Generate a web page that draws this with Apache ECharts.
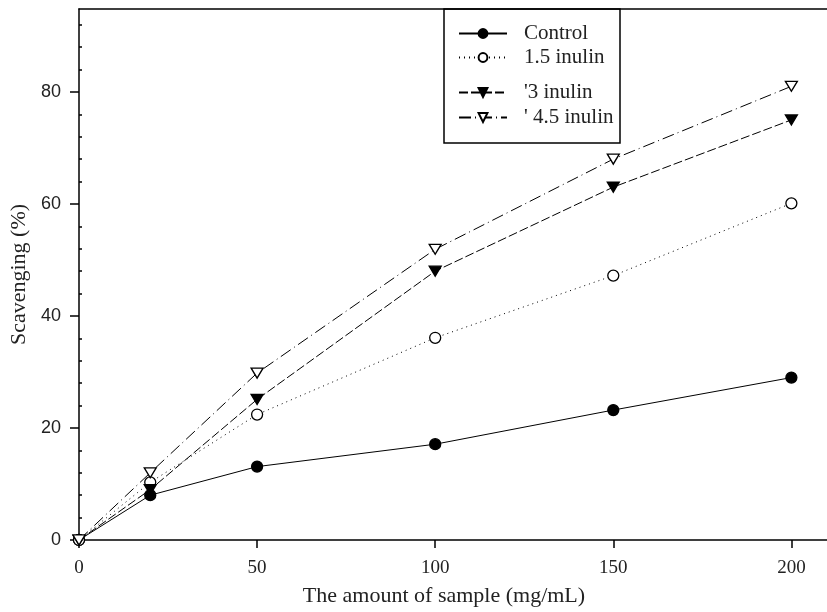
<!DOCTYPE html>
<html><head><meta charset="utf-8">
<script src="https://cdn.jsdelivr.net/npm/echarts@6/dist/echarts.min.js"></script>
<style>html,body{margin:0;padding:0;background:#fff}#c{width:827px;height:612px}</style>
</head><body><div id="c"></div>
<script>
const xValues = [0, 20, 50, 100, 150, 200];
const control = [0, 8, 13.1, 17.1, 23.2, 29];
const inulin15 = [0, 10.3, 22.4, 36.1, 47.2, 60.1];
const inulin3 = [0, 9, 25.1, 48, 63, 75];
const inulin45 = [0, 12, 29.8, 51.9, 68, 81];
const seriesNames = ['Control', '1.5 inulin', "'3 inulin", "' 4.5 inulin"];
const xTicks = [0, 50, 100, 150, 200];
const yTicks = [0, 20, 40, 60, 80];
const yMinorTicks = [4,8,12,16,24,28,32,36,44,48,52,56,64,68,72,76,84,88,92];

const pair = arr => xValues.map((x, i) => [x, arr[i]]);
const downTri = 'path://M0,0 L12,0 L6,10 Z';
const serif = 'Liberation Serif';

function mk(name, data, symbol, filled, lineType, size) {
  return {
    name, type: 'line', data: pair(data), symbol, symbolSize: size,
    lineStyle: { color: '#000', width: 1, type: lineType },
    itemStyle: { color: filled ? '#000' : '#fff', borderColor: '#000', borderWidth: 1.3 },
    emphasis: { disabled: true }, z: 3
  };
}

const legendTops = [18, 42, 77, 102];
const legends = seriesNames.map((n, i) => ({
  data: [n], left: 453, top: legendTops[i], orient: 'vertical',
  itemWidth: 48, itemHeight: 11, selectedMode: false,
  textStyle: { fontFamily: serif, fontSize: 21, color: '#222', padding: [0, 0, 0, 12] }
}));

const chart = echarts.init(document.getElementById('c'));
chart.setOption({
  animation: false,
  grid: { left: 79, top: 9, width: 768, height: 532, containLabel: false },
  legend: legends,
  graphic: [{ type: 'rect', shape: { x: 444, y: 9, width: 176, height: 134 },
    style: { fill: 'transparent', stroke: '#000', lineWidth: 1.5 }, z: 10 }],
  xAxis: [{
    type: 'value', min: 0, max: 210, position: 'bottom',
    name: 'The amount of sample (mg/mL)', nameLocation: 'middle', nameGap: 45,
    nameTextStyle: { fontFamily: serif, fontSize: 22, color: '#222', padding: [0, 18, 0, 0] },
    axisLine: { show: true, onZero: false, lineStyle: { color: '#000', width: 1.5 } },
    axisTick: { show: true, customValues: xTicks, length: 8, lineStyle: { color: '#000', width: 1.5 } },
    axisLabel: { customValues: xTicks, margin: 19, fontFamily: serif, fontSize: 19, color: '#222' },
    splitLine: { show: false }
  }, {
    type: 'value', min: 0, max: 210, position: 'top',
    axisLine: { show: true, onZero: false, lineStyle: { color: '#000', width: 1.5 } },
    axisTick: { show: false }, axisLabel: { show: false }, splitLine: { show: false }
  }],
  yAxis: [{
    type: 'value', min: 0, max: 94.8, position: 'left',
    name: 'Scavenging (%)', nameLocation: 'middle', nameGap: 46,
    nameTextStyle: { fontFamily: serif, fontSize: 22, color: '#222' },
    axisLine: { show: true, onZero: false, lineStyle: { color: '#000', width: 1.5 } },
    axisTick: { show: true, customValues: yTicks, length: 9, lineStyle: { color: '#000', width: 1.5 } },
    axisLabel: { customValues: yTicks, margin: 18, fontFamily: 'Liberation Sans', fontSize: 18, color: '#222' },
    splitLine: { show: false }
  }, {
    type: 'value', min: 0, max: 94.8, position: 'left',
    axisLine: { show: false, onZero: false },
    axisTick: { show: true, inside: true, customValues: yMinorTicks, length: 3, lineStyle: { color: '#000', width: 1.5 } },
    axisLabel: { show: false }, splitLine: { show: false }
  }],
  series: [
    mk(seriesNames[0], control, 'circle', true, 'solid', 11),
    mk(seriesNames[1], inulin15, 'circle', false, [1, 4], 11),
    mk(seriesNames[2], inulin3, downTri, true, [9, 3], [12, 10]),
    mk(seriesNames[3], inulin45, downTri, false, [12, 4, 1, 4], [12, 10])
  ]
});
</script></body></html>
